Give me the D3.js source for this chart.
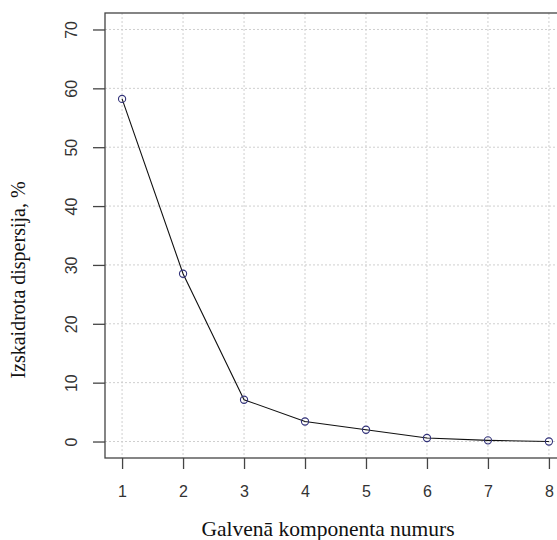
<!DOCTYPE html>
<html>
<head>
<meta charset="utf-8">
<script src="https://cdn.jsdelivr.net/npm/d3@7"></script>
<style>
  html, body { margin: 0; padding: 0; background: #fff; }
  svg { display: block; }
</style>
</head>
<body>
<svg id="chart" width="557" height="540"></svg>
<script>
// Principal components and share of explained variance (%)
const components = [1, 2, 3, 4, 5, 6, 7, 8];
const explained = [58.2, 28.5, 7.1, 3.4, 2.0, 0.6, 0.2, 0.0];
const yTicks = [0, 10, 20, 30, 40, 50, 60, 70];
const xTicks = [1, 2, 3, 4, 5, 6, 7, 8];

const svg = d3.select("#chart");
const plot = { left: 105, top: 13, right: 566, bottom: 458 };

// R-style 4% padding around the data range
const x = d3.scaleLinear().domain([1 - 0.28, 8 + 0.28]).range([plot.left, plot.right]);
const y = d3.scaleLinear().domain([-2.8, 72.8]).range([plot.bottom, plot.top]);

const g = svg.append("g");

// dotted grid
g.selectAll("line.vgrid").data(xTicks).enter().append("line")
  .attr("x1", d => x(d)).attr("x2", d => x(d))
  .attr("y1", plot.top).attr("y2", plot.bottom)
  .attr("stroke", "#cfcfcf").attr("stroke-width", 1).attr("stroke-dasharray", "2,2");
g.selectAll("line.hgrid").data(yTicks).enter().append("line")
  .attr("x1", plot.left).attr("x2", plot.right)
  .attr("y1", d => y(d)).attr("y2", d => y(d))
  .attr("stroke", "#cfcfcf").attr("stroke-width", 1).attr("stroke-dasharray", "2,2");

// plot frame
g.append("rect")
  .attr("x", plot.left).attr("y", plot.top)
  .attr("width", plot.right - plot.left).attr("height", plot.bottom - plot.top)
  .attr("fill", "none").attr("stroke", "#444").attr("stroke-width", 1.3);

// axes
const xAxis = d3.axisBottom(x).tickValues(xTicks).tickSize(11).tickPadding(17).tickFormat(d3.format("d"));
const yAxis = d3.axisLeft(y).tickValues(yTicks).tickSize(12).tickFormat(d3.format("d"));

const gx = svg.append("g").attr("transform", `translate(0,${plot.bottom})`).call(xAxis);
gx.select(".domain").remove();
gx.selectAll(".tick line").attr("stroke", "#444").attr("stroke-width", 1.3);
gx.selectAll(".tick text").attr("fill", "#333")
  .style("font-family", "Liberation Sans, Arial, sans-serif").style("font-size", "16px");

const gy = svg.append("g").attr("transform", `translate(${plot.left},0)`).call(yAxis);
gy.select(".domain").remove();
gy.selectAll(".tick line").attr("stroke", "#444").attr("stroke-width", 1.3);
gy.selectAll(".tick text")
  .attr("fill", "#333")
  .attr("text-anchor", "middle")
  .attr("dy", null)
  .attr("x", null)
  .attr("transform", "translate(-34,0) rotate(-90)")
  .attr("dominant-baseline", "central")
  .style("font-family", "Liberation Sans, Arial, sans-serif").style("font-size", "16px");

// line and points
const line = d3.line().x((d, i) => x(components[i])).y(d => y(d));
svg.append("path").datum(explained)
  .attr("d", line).attr("fill", "none").attr("stroke", "#111").attr("stroke-width", 1.1);

svg.selectAll("circle.pt").data(explained).enter().append("circle")
  .attr("cx", (d, i) => x(components[i])).attr("cy", d => y(d)).attr("r", 3.6)
  .attr("fill", "none").attr("stroke", "#33337a").attr("stroke-width", 1.1);

// axis titles
svg.append("text")
  .attr("x", 328).attr("y", 536)
  .attr("text-anchor", "middle")
  .attr("fill", "#111")
  .style("font-family", "Liberation Serif, Times New Roman, serif").style("font-size", "21.5px")
  .text("Galvenā komponenta numurs");

svg.append("text")
  .attr("transform", "translate(25,280) rotate(-90)")
  .attr("text-anchor", "middle")
  .attr("fill", "#111")
  .style("font-family", "Liberation Serif, Times New Roman, serif").style("font-size", "20px")
  .text("Izskaidrota dispersija, %");
</script>
</body>
</html>
